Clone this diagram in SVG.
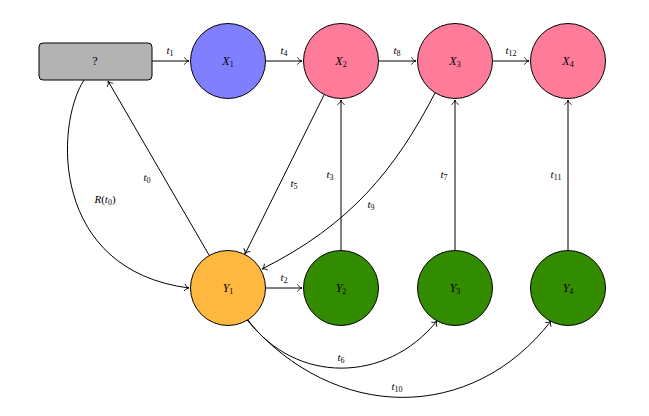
<svg xmlns="http://www.w3.org/2000/svg" width="649" height="416" viewBox="0 0 649 416">
<style>
.n{stroke:#000;stroke-width:1}
.e{fill:none;stroke:#000;stroke-width:1;marker-end:url(#ar)}
text{font-family:"Liberation Serif","DejaVu Serif",serif;fill:#000}
.m{font-size:12px;font-style:italic;text-anchor:middle}
.l{font-size:11px;font-style:italic;text-anchor:middle}
.s{font-size:8px;font-style:normal}
.u{font-style:normal}
</style>
<defs>
<marker id="ar" markerUnits="userSpaceOnUse" markerWidth="12" markerHeight="12" viewBox="-6 -6 12 12" refX="0" refY="0" orient="auto" overflow="visible">
<path d="M -4.5 -3.6 C -3.4 -1.3 -1.2 -0.2 0 0 C -1.2 0.2 -3.4 1.3 -4.5 3.6" fill="none" stroke="#000" stroke-width="0.9"/>
</marker>
</defs>
<g id="edges">
<path class="e" d="M 152 61 L 189 61"/>
<path class="e" d="M 266 61 L 302 61"/>
<path class="e" d="M 379 61 L 416 61"/>
<path class="e" d="M 493 61 L 529 61"/>
<path class="e" d="M 266 288 L 302 288"/>
<path class="e" d="M 341 250 L 341 100"/>
<path class="e" d="M 455 250 L 455 100"/>
<path class="e" d="M 568 250 L 568 100"/>
<path class="e" d="M 209 255 L 108 81"/>
<path class="e" d="M 324 95 L 245 254"/>
<path class="e" d="M 435 93 C 395 170 350 225 262 269"/>
<path class="e" d="M 84 80 C 55 125 50 270 189 288"/>
<path class="e" d="M 248 320 C 295 384 386 384 437 321"/>
<path class="e" d="M 247 320 C 335 423 472 423 551 321"/>
<text class="l" x="170" y="54">t<tspan class="s" dy="2">1</tspan></text>
<text class="l" x="284" y="54">t<tspan class="s" dy="2">4</tspan></text>
<text class="l" x="397" y="54">t<tspan class="s" dy="2">8</tspan></text>
<text class="l" x="511" y="54">t<tspan class="s" dy="2">12</tspan></text>
<text class="l" x="284" y="281">t<tspan class="s" dy="2">2</tspan></text>
<text class="l" x="330" y="178">t<tspan class="s" dy="2">3</tspan></text>
<text class="l" x="444" y="178">t<tspan class="s" dy="2">7</tspan></text>
<text class="l" x="556" y="178">t<tspan class="s" dy="2">11</tspan></text>
<text class="l" x="147" y="181">t<tspan class="s" dy="2">0</tspan></text>
<text class="l" x="294" y="187">t<tspan class="s" dy="2">5</tspan></text>
<text class="l" x="371" y="208">t<tspan class="s" dy="2">9</tspan></text>
<text class="l" x="105" y="203">R<tspan class="u">(</tspan>t<tspan class="s" dy="2">0</tspan><tspan class="u" dy="-2">)</tspan></text>
<text class="l" x="341" y="361">t<tspan class="s" dy="2">6</tspan></text>
<text class="l" x="397" y="390">t<tspan class="s" dy="2">10</tspan></text>
</g>
<g id="q"><rect class="n" x="39" y="43" width="113" height="37" rx="4" fill="#b3b3b3"/><text x="95" y="65" font-size="12" text-anchor="middle">?</text></g>
<g id="X1"><circle class="n" cx="228" cy="61" r="37.5" fill="#8080ff"/><text class="m" x="228" y="65">X<tspan class="s" dy="2">1</tspan></text></g>
<g id="X2"><circle class="n" cx="341" cy="61" r="37.5" fill="#ff7b9a"/><text class="m" x="341" y="65">X<tspan class="s" dy="2">2</tspan></text></g>
<g id="X3"><circle class="n" cx="455" cy="61" r="37.5" fill="#ff7b9a"/><text class="m" x="455" y="65">X<tspan class="s" dy="2">3</tspan></text></g>
<g id="X4"><circle class="n" cx="568" cy="61" r="37.5" fill="#ff7b9a"/><text class="m" x="568" y="65">X<tspan class="s" dy="2">4</tspan></text></g>
<g id="Y1"><circle class="n" cx="228" cy="288" r="37.5" fill="#ffb83f"/><text class="m" x="228" y="292">Y<tspan class="s" dy="2">1</tspan></text></g>
<g id="Y2"><circle class="n" cx="341" cy="288" r="37.5" fill="#338c00"/><text class="m" x="341" y="292">Y<tspan class="s" dy="2">2</tspan></text></g>
<g id="Y3"><circle class="n" cx="455" cy="288" r="37.5" fill="#338c00"/><text class="m" x="455" y="292">Y<tspan class="s" dy="2">3</tspan></text></g>
<g id="Y4"><circle class="n" cx="568" cy="288" r="37.5" fill="#338c00"/><text class="m" x="568" y="292">Y<tspan class="s" dy="2">4</tspan></text></g>
</svg>
